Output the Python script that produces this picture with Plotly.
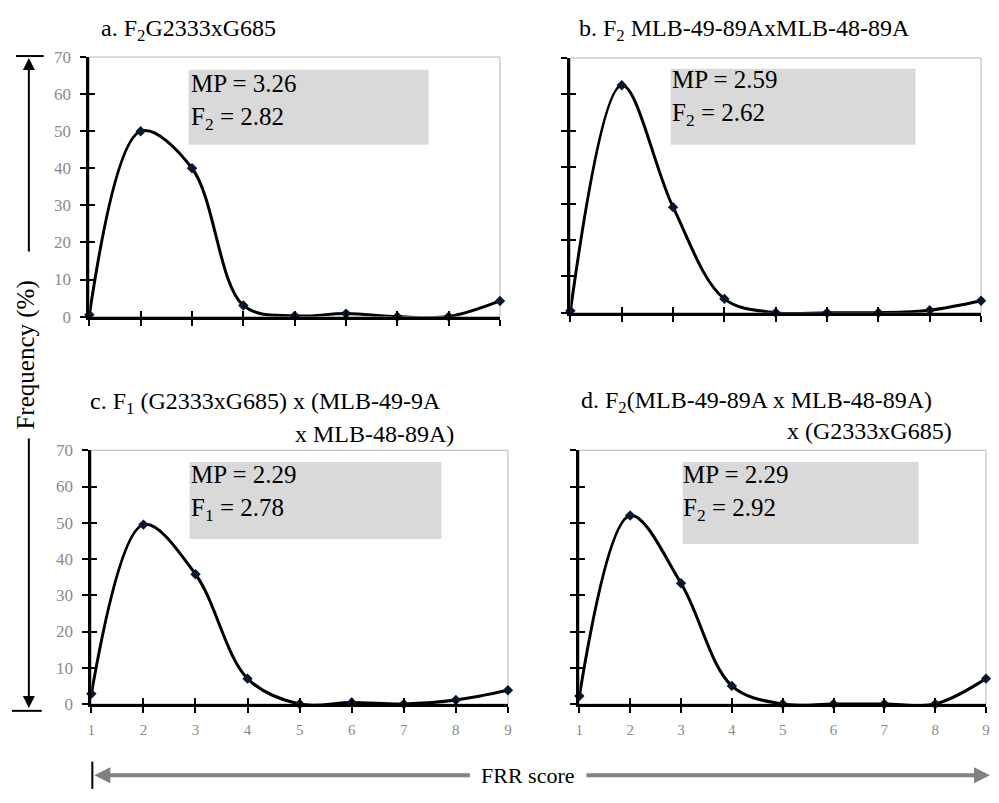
import plotly.graph_objects as go

# page body has an 8px margin: the figure is drawn 8px in from the top-left
OFF = 8
W, H = 999 - 2 * OFF, 803 - 2 * OFF

# ---- data ----
scores = [1, 2, 3, 4, 5, 6, 7, 8, 9]
freq_a = [0.5, 50, 40, 3, 0.2, 0.8, 0, 0, 4.2]
freq_b = [0.5, 62.5, 29, 3.8, 0, 0, 0, 0.7, 3.3]
freq_c = [2.8, 49.5, 35.8, 7, 0, 0.4, 0, 1.1, 3.8]
freq_d = [2.2, 52, 33.3, 5, 0, 0, 0, 0, 7]
y_ticks = [0, 10, 20, 30, 40, 50, 60, 70]
mp_labels = ["MP = 3.26", "MP = 2.59", "MP = 2.29", "MP = 2.29"]
gen_labels = ["F<sub>2</sub> = 2.82", "F<sub>2</sub> = 2.62",
              "F<sub>1</sub> = 2.78", "F<sub>2</sub> = 2.92"]
title_a = "a. F<sub>2</sub>G2333xG685"
title_b = "b. F<sub>2</sub> MLB-49-89AxMLB-48-89A"
title_c1 = "c. F<sub>1</sub> (G2333xG685) x (MLB-49-9A"
title_c2 = "x MLB-48-89A)"
title_d1 = "d. F<sub>2</sub>(MLB-49-89A x MLB-48-89A)"
title_d2 = "x (G2333xG685)"
y_title = "Frequency (%)"
x_title = "FRR score"

series = [freq_a, freq_b, freq_c, freq_d]

FONT = "Liberation Serif, Times New Roman, serif"


def px(x):
    return (x - OFF) / W


def py(y):
    return 1 - (y - OFF) / H


def clamp(v):
    return max(0.0, min(1.0, v))


# panel pixel geometry (page pixels): plot-area left, right, top, bottom
panels = [
    dict(l=86, r=500, t=49, b=315, ylab=True, xlab=False,
         box=(186, 428, 62, 139), txt=(187, 61)),
    dict(l=571, r=985, t=50, b=311, ylab=False, xlab=False,
         box=(672, 919, 61, 139), txt=(672, 57)),
    dict(l=88, r=508, t=452, b=712, ylab=True, xlab=True,
         box=(187, 441, 464, 543), txt=(187, 462)),
    dict(l=580, r=990, t=452, b=712, ylab=False, xlab=True,
         box=(684, 922, 464, 548), txt=(684, 462)),
]

fig = go.Figure()
layout = {}
shapes = []
annotations = []

for i, (p, ys) in enumerate(zip(panels, series)):
    n = i + 1
    sfx = "" if n == 1 else str(n)
    on = n + 4
    xdom = [clamp(px(p["l"])), clamp(px(p["r"]))]
    ydom = [clamp(py(p["b"])), clamp(py(p["t"]))]

    layout["xaxis" + sfx] = dict(
        domain=xdom, range=[1, 9], anchor="y" + sfx, tickvals=scores,
        ticks="outside", ticklen=6, tickwidth=2, tickcolor="black",
        showline=True, linewidth=3, linecolor="black", showgrid=False,
        zeroline=False, showticklabels=p["xlab"], ticklabelstandoff=4,
        tickfont=dict(family=FONT, size=15, color="#8a8a8a"))
    layout["yaxis" + sfx] = dict(
        domain=ydom, range=[0, 70], anchor="x" + sfx, tickvals=y_ticks,
        ticks="outside", ticklen=6, tickwidth=2, tickcolor="black",
        showline=True, linewidth=3, linecolor="black", showgrid=False,
        zeroline=False, showticklabels=p["ylab"], ticklabelstandoff=6,
        tickfont=dict(family=FONT, size=17, color="#8a8a8a"))
    # overlay axes giving the inner half of the crossing ticks
    layout["xaxis" + str(on)] = dict(
        overlaying="x" + sfx, anchor="y" + sfx, range=[1, 9], tickvals=scores,
        ticks="inside", ticklen=6, tickwidth=2, tickcolor="black",
        showline=False, showgrid=False, zeroline=False, showticklabels=False)
    layout["yaxis" + str(on)] = dict(
        overlaying="y" + sfx, anchor="x" + sfx, range=[0, 70], tickvals=y_ticks,
        ticks="inside", ticklen=6, tickwidth=2, tickcolor="black",
        showline=False, showgrid=False, zeroline=False, showticklabels=False)

    fig.add_trace(go.Scatter(x=scores, y=ys, xaxis="x" + str(on), yaxis="y" + sfx,
                             mode="lines", line=dict(width=0), opacity=0,
                             hoverinfo="skip", showlegend=False))
    fig.add_trace(go.Scatter(x=scores, y=ys, xaxis="x" + sfx, yaxis="y" + str(on),
                             mode="lines", line=dict(width=0), opacity=0,
                             hoverinfo="skip", showlegend=False))

    # frame
    shapes.append(dict(type="rect", xref="x" + sfx + " domain", yref="y" + sfx + " domain",
                       x0=0, x1=1, y0=0, y1=1, line=dict(color="#b5b5b5", width=1),
                       layer="below"))
    # grey box
    bx0, bx1, by0, by1 = p["box"]
    shapes.append(dict(type="rect", xref="paper", yref="paper",
                       x0=px(bx0), x1=px(bx1), y0=py(by1), y1=py(by0),
                       fillcolor="#d9d9d9", line=dict(width=0), layer="below"))
    tx, ty = p["txt"]
    annotations.append(dict(xref="paper", yref="paper", x=px(tx), y=py(ty),
                            xanchor="left", yanchor="top", align="left",
                            showarrow=False, borderpad=0,
                            text=mp_labels[i] + "<br>" + gen_labels[i],
                            font=dict(family=FONT, size=25, color="black")))

    fig.add_trace(go.Scatter(
        x=scores, y=ys, xaxis="x" + sfx, yaxis="y" + sfx, mode="lines+markers",
        line=dict(shape="spline", smoothing=1.0, color="black", width=3),
        marker=dict(symbol="diamond", size=8, color="#0b1730"),
        cliponaxis=False, showlegend=False, hoverinfo="skip"))

# titles
tfont = dict(family=FONT, size=24, color="black")
for text, x, y, anchor in [
    (title_a, 96, 21, "left"),
    (title_b, 578, 21, "left"),
    (title_c1, 85, 404, "left"),
    (title_c2, 456, 435, "right"),
    (title_d1, 580, 403, "left"),
    (title_d2, 958, 432, "right"),
]:
    annotations.append(dict(xref="paper", yref="paper", x=px(x), y=py(y),
                            xanchor=anchor, yanchor="middle", showarrow=False,
                            text=text, font=tfont))

# y title with arrows
annotations.append(dict(xref="paper", yref="paper", x=px(22), y=py(354),
                        xanchor="center", yanchor="middle", showarrow=False,
                        text=y_title, textangle=-90,
                        font=dict(family=FONT, size=25, color="black")))
annotations.append(dict(xref="paper", yref="paper", x=px(25), y=py(50),
                        ax=0, ay=195, text="", showarrow=True, arrowhead=2,
                        arrowsize=1.2, arrowwidth=2, arrowcolor="black"))
annotations.append(dict(xref="paper", yref="paper", x=px(25), y=py(716),
                        ax=0, ay=-271, text="", showarrow=True, arrowhead=2,
                        arrowsize=1.2, arrowwidth=2, arrowcolor="black"))
shapes.append(dict(type="line", xref="paper", yref="paper",
                   x0=px(12), x1=px(40), y0=py(48), y1=py(48),
                   line=dict(color="black", width=2)))
shapes.append(dict(type="line", xref="paper", yref="paper",
                   x0=px(8), x1=px(38), y0=py(719), y1=py(719),
                   line=dict(color="black", width=2)))

# x title with arrows
annotations.append(dict(xref="paper", yref="paper", x=px(528), y=py(785),
                        xanchor="center", yanchor="middle", showarrow=False,
                        text=x_title, font=dict(family=FONT, size=22, color="black")))
annotations.append(dict(xref="paper", yref="paper", x=px(91), y=py(785),
                        ax=377, ay=0, text="", showarrow=True, arrowhead=2,
                        arrowsize=0.8, arrowwidth=4, arrowcolor="#808080"))
annotations.append(dict(xref="paper", yref="paper", x=px(994), y=py(785),
                        ax=-405, ay=0, text="", showarrow=True, arrowhead=2,
                        arrowsize=0.8, arrowwidth=4, arrowcolor="#808080"))
shapes.append(dict(type="line", xref="paper", yref="paper",
                   x0=px(89), x1=px(89), y0=py(771), y1=py(799),
                   line=dict(color="black", width=2)))

fig.update_layout(
    width=W, height=H, margin=dict(l=0, r=0, t=0, b=0),
    paper_bgcolor="white", plot_bgcolor="rgba(0,0,0,0)",
    showlegend=False, shapes=shapes, annotations=annotations,
    font=dict(family=FONT), **layout)

fig.write_html("out.html")
